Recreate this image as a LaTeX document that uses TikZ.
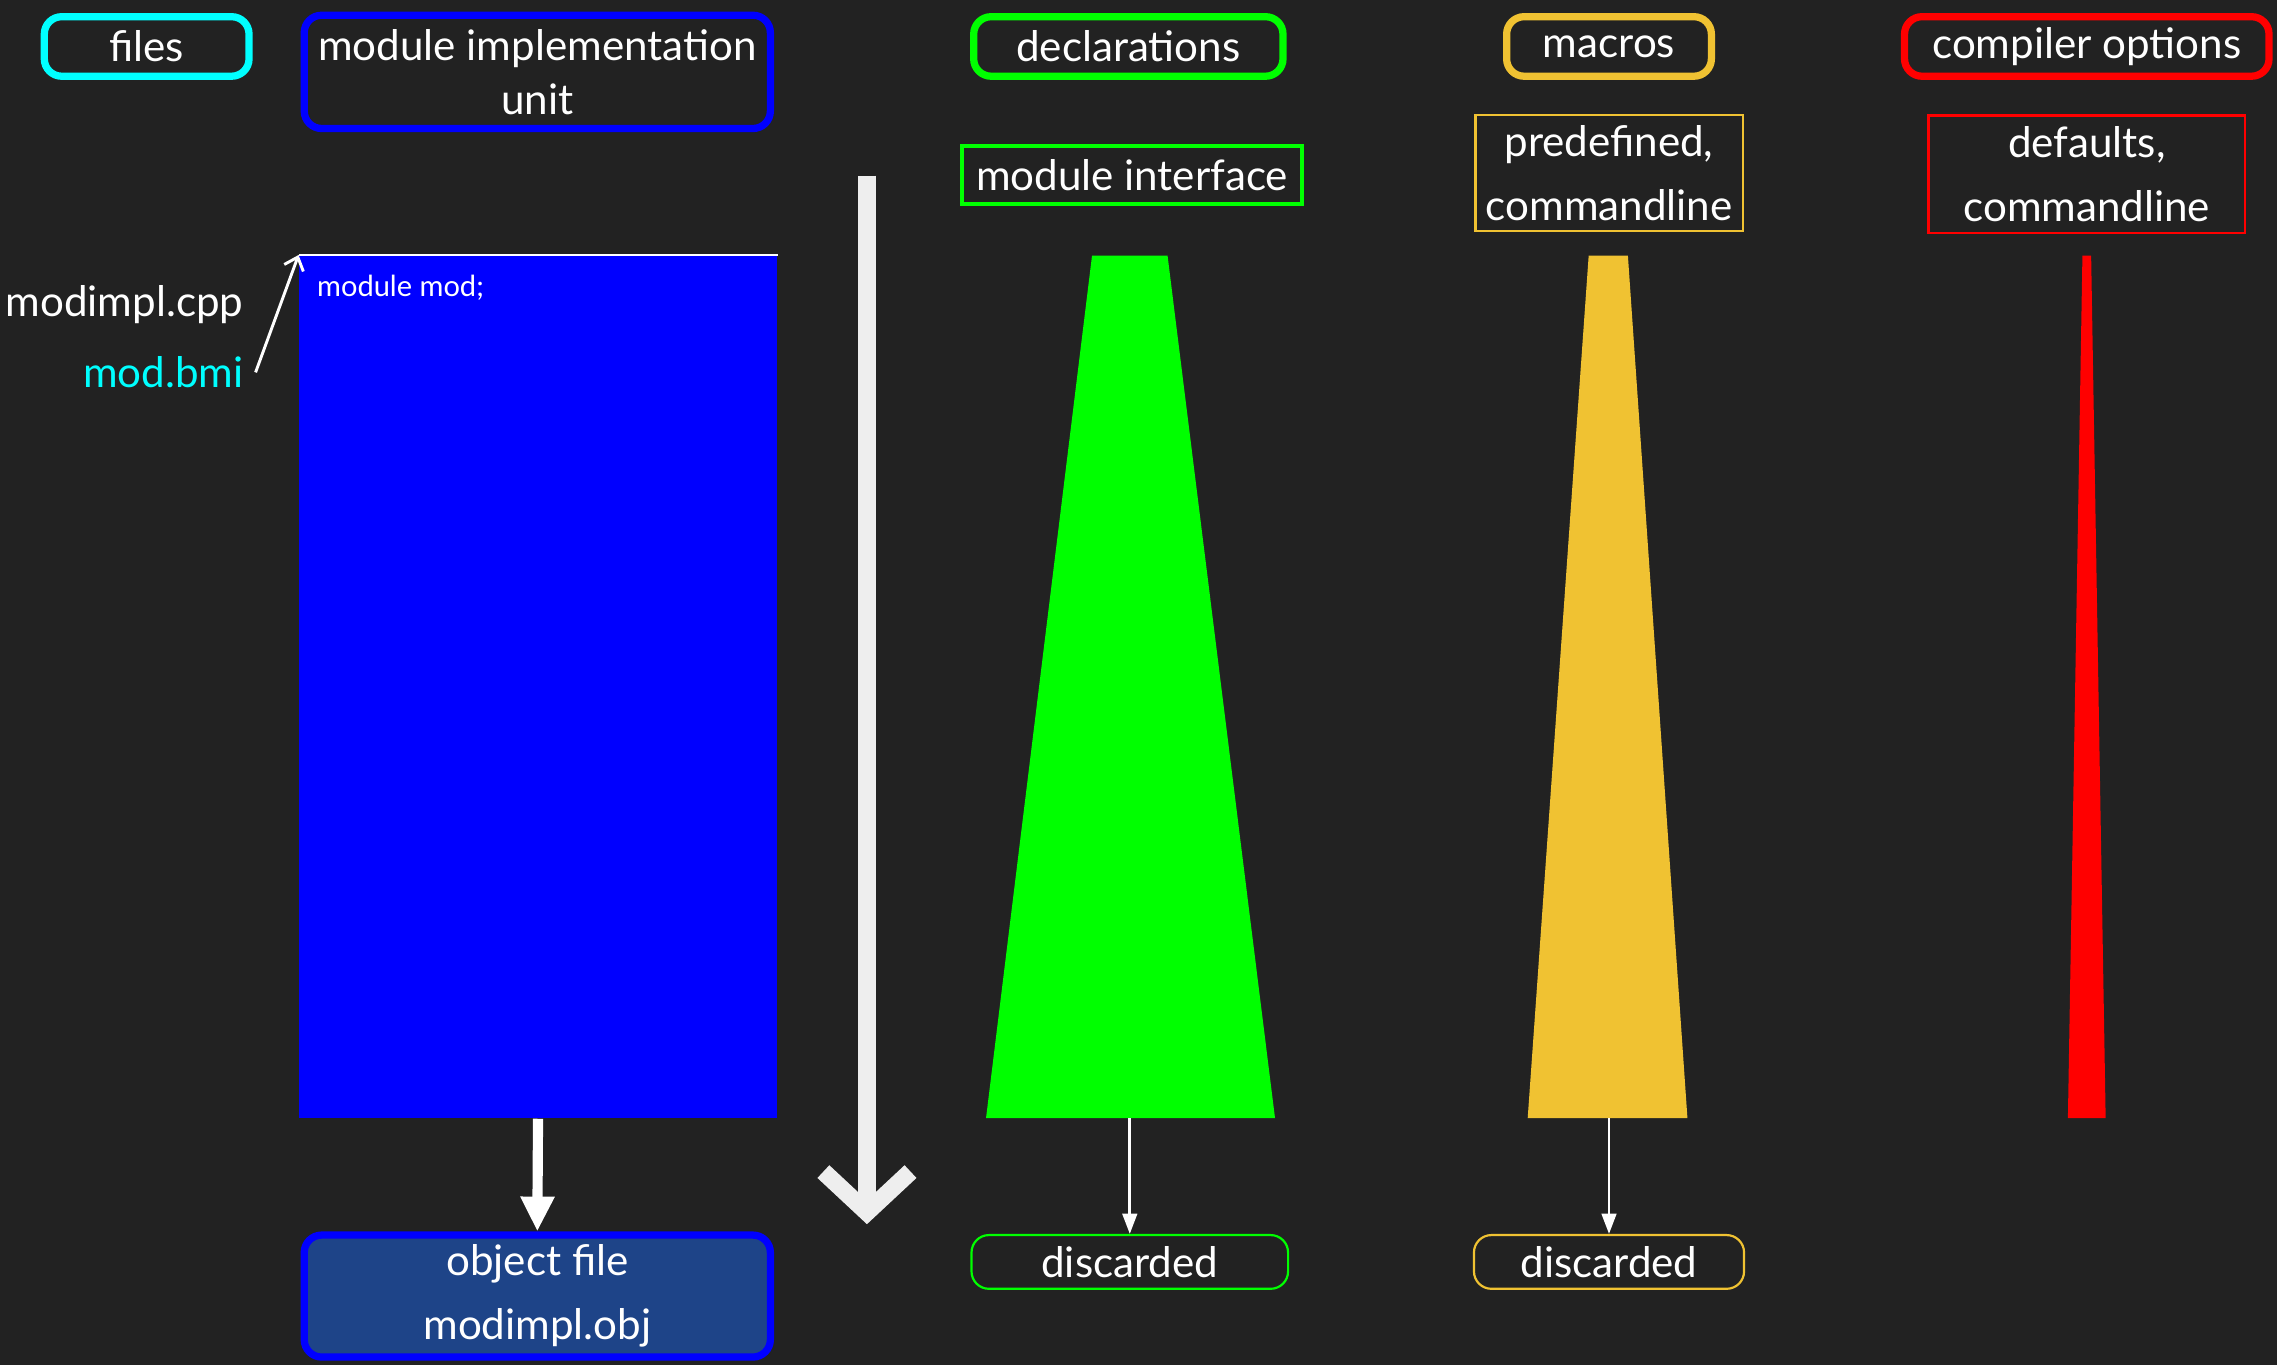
\documentclass[tikz,border=0pt]{standalone}
\usepackage{fontspec}
\setmainfont{Lato}
\usetikzlibrary{arrows.meta}

\definecolor{bg}{HTML}{222222}
\definecolor{filecyan}{HTML}{00FFFF}
\definecolor{implblue}{HTML}{0000FF}
\definecolor{declgreen}{HTML}{00FF00}
\definecolor{macroyellow}{HTML}{F0C232}
\definecolor{optred}{HTML}{FF0000}
\definecolor{objblue}{HTML}{1E4488}
\definecolor{flowwhite}{HTML}{EEEEEE}

\tikzset{
  big/.style={font=\fontsize{14.5}{18}\selectfont, text=white},
  head/.style={big, rounded corners=6pt, line width=2.5pt, inner sep=0pt,
    align=center, minimum height=20.5pt},
  source/.style={big, inner sep=0pt, align=center},
  result/.style={big, rounded corners=6pt, line width=0.75pt, inner sep=0pt,
    minimum height=18.5pt},
  thinarrow/.style={white, line width=1pt, -{Triangle[length=7pt,width=5pt]}}
}

\begin{document}
\begin{tikzpicture}[x=0.5pt, y=-0.5pt]
  \fill[bg] (0,0) rectangle (1568,940);
  \useasboundingbox (0,0) rectangle (1568,940);

  % column heads
  \node[head, draw=filecyan, minimum width=70.5pt] (files) at (101,32) {files};
  \node[head, draw=implblue, minimum width=160.5pt, minimum height=39pt,
    font=\fontsize{14.5}{18.5}\selectfont] (impl) at (370,49.5) {module implementation\\unit};
  \node[head, draw=declgreen, minimum width=106.5pt] (decl) at (777,32) {declarations};
  \node[head, draw=macroyellow, minimum width=70.5pt] (macros) at (1108,32) {macros};
  \node[head, draw=optred, minimum width=125.5pt] (opts) at (1437,32) {compiler options};

  % sources
  \node[source, draw=declgreen, line width=1.5pt, minimum width=117pt, minimum height=20pt]
    (iface) at (779.5,120.5) {module interface};
  \node[source, draw=macroyellow, line width=0.75pt, minimum width=92pt, minimum height=40pt,
    font=\fontsize{14.5}{22}\selectfont] (predef) at (1108,119) {predefined,\\commandline};
  \node[source, draw=optred, line width=0.75pt, minimum width=109pt, minimum height=40.5pt,
    font=\fontsize{14.5}{22}\selectfont] (defaults) at (1437,120) {defaults,\\commandline};

  % translation unit
  \node[fill=implblue, inner sep=0pt, minimum width=164.5pt, minimum height=297pt]
    (body) at (370.5,473) {};
  \draw[white, line width=1pt] (body.north west) -- (body.north east);
  \node[anchor=base west, inner sep=0pt, text=white, font=\fontsize{10}{12}\selectfont]
    (modline) at (218,204) {module mod;};

  \node[big, anchor=base east, inner sep=0pt] (cpp) at (168,218) {modimpl.cpp};
  \node[big, anchor=base east, inner sep=0pt, text=filecyan] (bmi) at (168,267) {mod.bmi};
  \draw[white, line width=1pt, -{Straight Barb[length=4pt,width=7pt]}]
    ([xshift=4pt]bmi.east) -- (body.north west);

  % lifetimes
  \fill[declgreen] (752,176) -- (804,176) -- (878,770) -- (679,770) -- cycle;
  \fill[macroyellow] (1094,176) -- (1121,176) -- (1162,770) -- (1052,770) -- cycle;
  \fill[optred] (1434,176) -- (1440,176) -- (1450,770) -- (1424,770) -- cycle;
  \coordinate (declend) at (778,770);
  \coordinate (macroend) at (1108,770);

  % time
  \coordinate (flowtop) at (597,121);
  \coordinate (flowbot) at (597,843);
  \draw[flowwhite, line width=6pt, -{Straight Barb[length=14pt,width=30pt]}] (flowtop) -- (flowbot);

  % results
  \node[head, draw=implblue, fill=objblue, minimum width=160.5pt, minimum height=42pt,
    font=\fontsize{14.5}{22}\selectfont] (obj) at (370,892.5) {object file\\modimpl.obj};
  \node[result, draw=declgreen, minimum width=109pt] (gone1) at (778,869) {discarded};
  \node[result, draw=macroyellow, minimum width=93pt] (gone2) at (1108,869) {discarded};

  \draw[white, line width=3.5pt, -{Triangle[length=12pt,width=11pt]}] (body.south) -- (obj.north);
  \draw[thinarrow] (declend) -- (gone1.north);
  \draw[thinarrow] (macroend) -- (gone2.north);

\end{tikzpicture}
\end{document}
